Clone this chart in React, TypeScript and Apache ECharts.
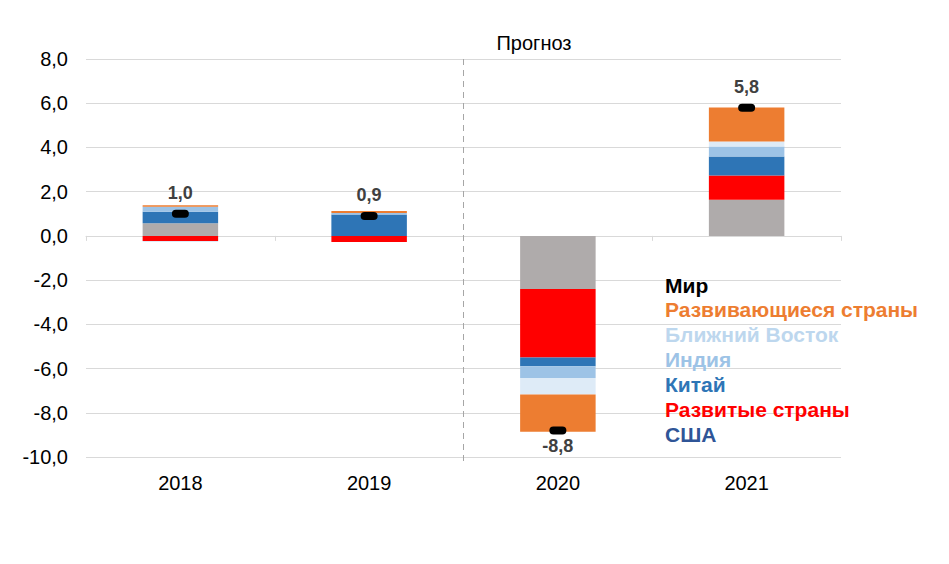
import React, { useEffect, useRef } from "react";
import * as echarts from "echarts";

const categories = ["2018", "2019", "2020", "2021"];
const usa = [0.57, 0.0, -2.4, 1.63];
const developed = [-0.23, -0.28, -3.1, 1.1];
const china = [0.52, 0.97, -0.4, 0.86];
const india = [0.23, 0.06, -0.53, 0.45];
const middleEast = [-0.05, 0.0, -0.74, 0.23];
const developing = [0.07, 0.09, -1.69, 1.54];
const world = [1.0, 0.9, -8.8, 5.8];

const legendItems = [
  { name: "Мир", color: "#000000" },
  { name: "Развивающиеся страны", color: "#ED7D31" },
  { name: "Ближний Восток", color: "#BDD7EE" },
  { name: "Индия", color: "#9DC3E6" },
  { name: "Китай", color: "#2E75B6" },
  { name: "Развитые страны", color: "#FF0000" },
  { name: "США", color: "#2F5597" },
];

const FONT = '"Liberation Sans", Arial, sans-serif';
const fmt = (v: number) => v.toFixed(1).replace(".", ",");
const pill = "path://M4,0 L13,0 A4,4 0 0 1 13,8 L4,8 A4,4 0 0 1 4,0 Z";

export default function App() {
  const ref = useRef<HTMLDivElement>(null);
  useEffect(() => {
    if (!ref.current) return;
    const chart = echarts.init(ref.current, undefined, { renderer: "svg" });
    const barSeries = (name: string, data: number[], color: string) => ({
      name,
      type: "bar",
      stack: "total",
      barWidth: "40%",
      data,
      itemStyle: { color },
      xAxisIndex: 0,
      yAxisIndex: 0,
    });
    chart.setOption({
      animation: false,
      backgroundColor: "#ffffff",
      textStyle: { fontFamily: FONT },
      grid: { left: 86, right: 108, top: 59, bottom: 107 },
      xAxis: [
        {
          type: "category",
          data: categories,
          position: "bottom",
          axisLine: { show: true, onZero: true, lineStyle: { color: "#D9D9D9", width: 1 } },
          axisTick: { show: true, length: 5, alignWithLabel: false, lineStyle: { color: "#D9D9D9" } },
          axisLabel: { show: false },
          splitLine: { show: false },
          z: 1,
        },
        {
          type: "category",
          data: categories,
          position: "bottom",
          axisLine: { show: false, onZero: false },
          axisTick: { show: false },
          axisLabel: { show: true, margin: 16, fontSize: 20, color: "#000000", fontFamily: FONT },
          splitLine: { show: false },
        },
      ],
      yAxis: {
        type: "value",
        min: -10,
        max: 8,
        interval: 2,
        axisLine: { show: false },
        axisTick: { show: false },
        axisLabel: { fontSize: 20, color: "#000000", margin: 18, fontFamily: FONT, formatter: (v: number) => fmt(v) },
        splitLine: { lineStyle: { color: "#D9D9D9", width: 1 } },
      },
      series: [
        barSeries("США", usa, "#AFABAB"),
        barSeries("Развитые страны", developed, "#FF0000"),
        barSeries("Китай", china, "#2E75B6"),
        barSeries("Индия", india, "#9DC3E6"),
        barSeries("Ближний Восток", middleEast, "#DEEBF7"),
        barSeries("Развивающиеся страны", developing, "#ED7D31"),
        {
          name: "Мир",
          type: "scatter",
          xAxisIndex: 0,
          yAxisIndex: 0,
          symbol: pill,
          symbolSize: [17, 8],
          itemStyle: { color: "#000000", opacity: 1 },
          z: 10,
          data: world.map((v) => ({
            value: v,
            label: v >= 0 ? { position: "top", distance: 8 } : { position: "bottom", distance: 3 },
          })),
          label: {
            show: true,
            fontSize: 18,
            fontWeight: "bold",
            color: "#404040",
            opacity: 1,
            fontFamily: FONT,
            formatter: (p: any) => fmt(Number(p.value)),
          },
        },
      ],
    });

    const a = chart.convertToPixel({ seriesIndex: 0 }, [1, 8]) as number[];
    const b = chart.convertToPixel({ seriesIndex: 0 }, [2, -10]) as number[];
    const xMid = (a[0] + b[0]) / 2;

    const graphics: any[] = legendItems.map((it, i) => ({
      type: "text",
      x: 665,
      y: 285 + i * 24.85,
      style: {
        text: it.name,
        fill: it.color,
        fontSize: 21,
        fontWeight: "bold",
        fontFamily: FONT,
        align: "left",
        verticalAlign: "middle",
      },
      z: 20,
    }));
    graphics.push({
      type: "text",
      x: 534,
      y: 43,
      style: {
        text: "Прогноз",
        fill: "#000000",
        fontSize: 20,
        fontFamily: FONT,
        align: "center",
        verticalAlign: "middle",
      },
    });
    graphics.push({
      type: "line",
      shape: { x1: xMid, y1: a[1], x2: xMid, y2: b[1] + 4 },
      style: { stroke: "#A6A6A6", lineWidth: 1, lineDash: [6, 5] },
      z: 5,
    });
    chart.setOption({ graphic: graphics });

    return () => chart.dispose();
  }, []);
  return (
    <div
      ref={ref}
      style={{ position: "fixed", left: 0, top: 0, width: 949, height: 564, background: "#fff" }}
    />
  );
}
